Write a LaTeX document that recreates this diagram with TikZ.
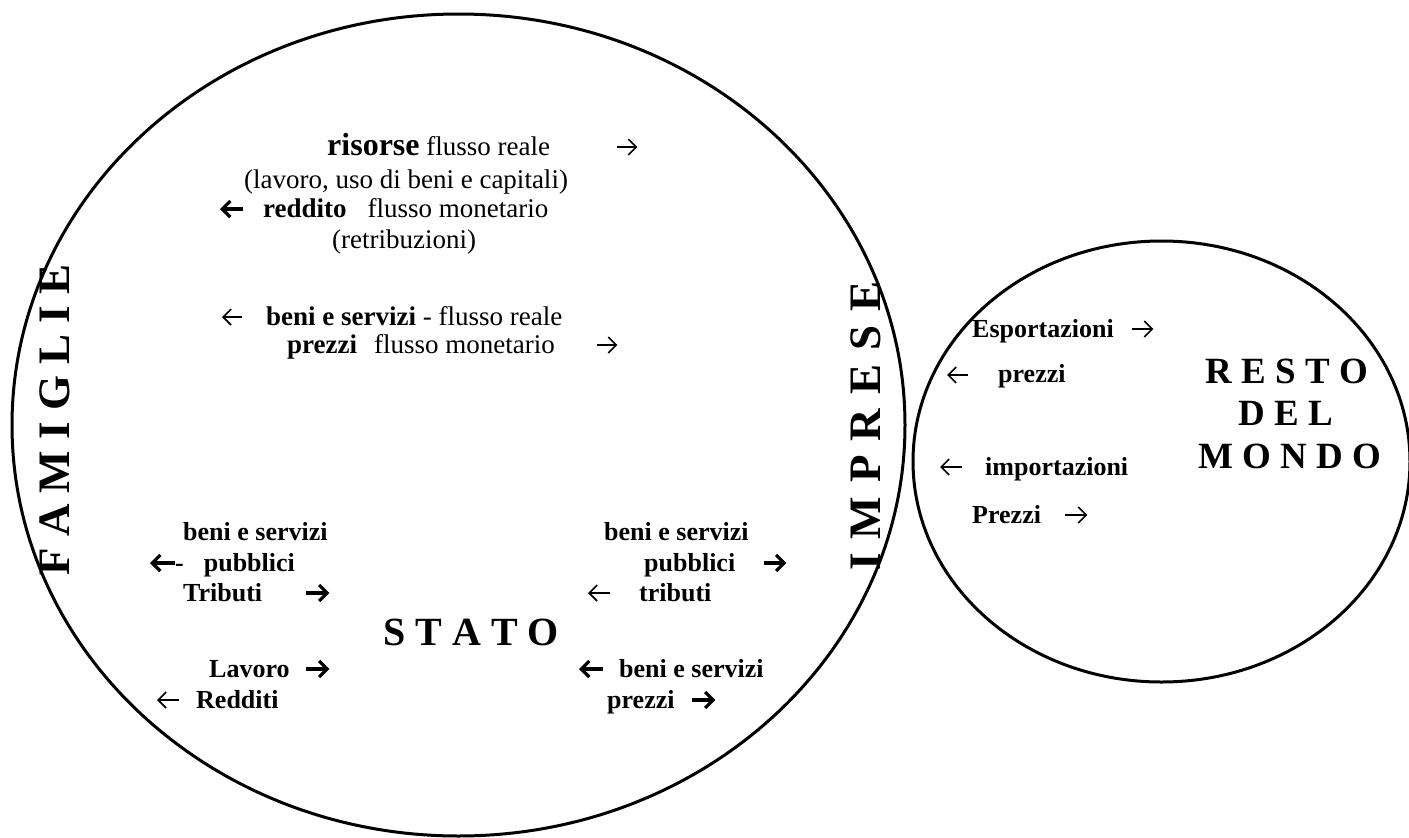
\documentclass[tikz,border=0pt]{standalone}
\usepackage{fontspec}
\setmainfont{Liberation Serif}
\usetikzlibrary{shapes.geometric,arrows.meta}
\begin{document}
\begin{tikzpicture}[x=1pt,y=-1pt,
  circ/.style={draw, line width=3pt, ellipse, inner sep=0pt},
  lbl/.style={anchor=base west, inner sep=0pt, font=\fontsize{26}{30}\selectfont\bfseries},
  txt/.style={anchor=base west, inner sep=0pt, font=\fontsize{27}{31}\selectfont},
  big/.style={inner sep=0pt, font=\fontsize{#1}{#1}\selectfont\bfseries},
  arrbox/.style={anchor=west, inner sep=0pt, minimum height=2pt, minimum width=#1},
  thinarr/.style={line width=1.6pt, -{Straight Barb[length=8pt,width=16pt]}},
  heavyarr/.style={line width=3.2pt, -{Straight Barb[length=8pt,width=16pt]}}
]
\useasboundingbox (0,0) rectangle (1409,838);
% ellipses
\node[circ, minimum width=893pt, minimum height=822pt] (fam) at (458.5,425) {};
\node[circ, minimum width=497pt, minimum height=441pt] (rdm) at (1161.5,461.5) {};
% vertical titles
\node[big=45, rotate=90] (famiglie) at (55,420) {F A M I G L I E};
\node[big=45, rotate=90] (imprese) at (866,426) {I\hspace{14pt}M\hspace{14pt}P\hspace{14pt}R\hspace{14pt}E\hspace{14pt}S\hspace{14pt}E};
% top block
\node[txt] (t1) at (327,155) {{\fontsize{32}{36}\selectfont\bfseries risorse} flusso reale};
\node[txt, anchor=base] (t2) at (406,188) {(lavoro, uso di beni e capitali)};
\node[txt] (t3) at (263,217) {\textbf{reddito}\hspace{21pt}flusso monetario};
\node[txt] (t4) at (332,248) {(retribuzioni)};
\node[txt] (t5) at (266,325) {\textbf{beni e servizi} - flusso reale};
\node[txt] (t6) at (287,353) {\textbf{prezzi}\hspace{17pt}flusso monetario};
\node[arrbox=20pt] (a1) at (617,147) {};
\node[arrbox=23pt] (a2) at (220,209) {};
\node[arrbox=20pt] (a3) at (222,317) {};
\node[arrbox=20pt] (a4) at (597,345) {};
% STATO block
\node[lbl] (l1) at (183,540) {beni e servizi};
\node[lbl] (l2) at (175,571) {-\hspace{20pt}pubblici};
\node[lbl] (l3) at (183,601) {Tributi};
\node[big=40, anchor=base west] (stato) at (383,645) {S T A T O};
\node[lbl] (l4) at (209,677) {Lavoro};
\node[lbl] (l5) at (196,708) {Redditi};
\node[lbl] (r1) at (604,540) {beni e servizi};
\node[lbl] (r2) at (644,571) {pubblici};
\node[lbl] (r3) at (639,601) {tributi};
\node[lbl] (r4) at (619,677) {beni e servizi};
\node[lbl] (r5) at (607,708) {prezzi};
\node[arrbox=25pt] (a5) at (150,563) {};
\node[arrbox=23pt] (a6) at (306,593) {};
\node[arrbox=23pt] (a7) at (306,669) {};
\node[arrbox=22pt] (a8) at (157,700) {};
\node[arrbox=22pt] (a9) at (764,563) {};
\node[arrbox=22pt] (a10) at (588,593) {};
\node[arrbox=24pt] (a11) at (579,669) {};
\node[arrbox=23pt] (a12) at (692,700) {};
% resto del mondo
\node[lbl] (e1) at (972,337) {Esportazioni};
\node[lbl] (e2) at (998,382) {prezzi};
\node[lbl] (e3) at (985,475) {importazioni};
\node[lbl] (e4) at (972,523) {Prezzi};
\node[arrbox=21pt] (a13) at (1132,329) {};
\node[arrbox=21pt] (a14) at (947,375) {};
\node[arrbox=22pt] (a15) at (940,467) {};
\node[arrbox=22pt] (a16) at (1065,515) {};
\node[big=37, anchor=base] (rm1) at (1287,383) {R E S T O};
\node[big=37, anchor=base] (rm2) at (1286,425) {D E L};
\node[big=37, anchor=base] (rm3) at (1290,468) {M O N D O};
% arrows
\foreach \n in {a1,a4,a13,a16} \draw[thinarr] (\n.west) -- (\n.east);
\foreach \n in {a3,a8,a10,a14,a15} \draw[thinarr] (\n.east) -- (\n.west);
\foreach \n in {a6,a7,a9,a12} \draw[heavyarr] (\n.west) -- (\n.east);
\foreach \n in {a2,a5,a11} \draw[heavyarr] (\n.east) -- (\n.west);
\end{tikzpicture}
\end{document}
